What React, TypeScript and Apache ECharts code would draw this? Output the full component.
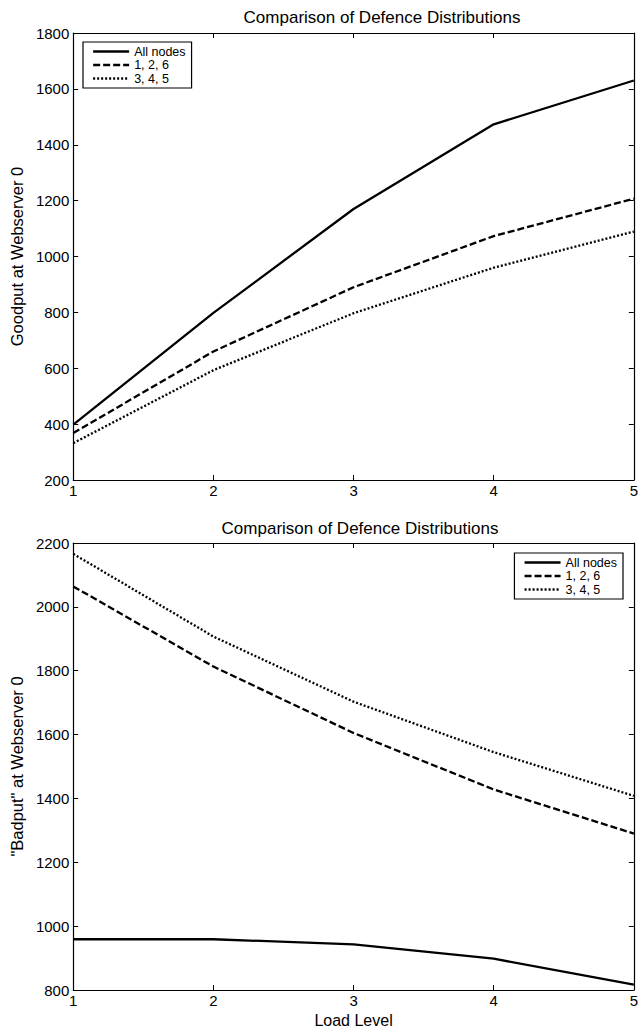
import React, { useEffect, useRef } from "react";
import * as echarts from "echarts";

const loadLevels = [1, 2, 3, 4, 5];
const seriesNames = ["All nodes", "1, 2, 6", "3, 4, 5"];

const goodputAll = [398, 798, 1170, 1473, 1630];
const goodput126 = [368, 660, 890, 1073, 1207];
const goodput345 = [332, 593, 797, 960, 1089];

const badputAll = [959, 959, 943, 898, 817];
const badput126 = [2064, 1813, 1605, 1428, 1290];
const badput345 = [2166, 1907, 1703, 1545, 1408];

const chartTitle = "Comparison of Defence Distributions";
const topYName = "Goodput at Webserver 0";
const bottomYName = "\"Badput\" at Webserver 0";
const xName = "Load Level";

const FONT = "'Liberation Sans', Arial, Helvetica, sans-serif";
const lineTypes: any[] = ["solid", [7, 3], [2, 2]];

export default function App() {
  const ref = useRef<HTMLDivElement>(null);
  useEffect(() => {
    if (!ref.current) return;
    const chart = echarts.init(ref.current, undefined, { renderer: "svg" });
    const pairs = (ys: number[]) => loadLevels.map((x, i) => [x, ys[i]]);
    const plain = (v: number) => String(v);

    const xBase = (gridIndex: number, position: string, showLabel: boolean) => ({
      type: "value",
      gridIndex,
      position,
      min: 1,
      max: 5,
      interval: 1,
      axisLine: { show: true, onZero: false, lineStyle: { color: "#000", width: 1.2 } },
      axisTick: { show: true, inside: true, length: 5, lineStyle: { color: "#000", width: 1 } },
      axisLabel: {
        show: showLabel,
        color: "#000",
        fontSize: 15,
        fontFamily: FONT,
        margin: 3,
        formatter: plain,
        showMinLabel: true,
        showMaxLabel: true,
      },
      splitLine: { show: false },
    });
    const yBase = (gridIndex: number, position: string, showLabel: boolean, min: number, max: number) => ({
      type: "value",
      gridIndex,
      position,
      min,
      max,
      interval: 200,
      axisLine: { show: true, onZero: false, lineStyle: { color: "#000", width: 1.2 } },
      axisTick: { show: true, inside: true, length: 5, lineStyle: { color: "#000", width: 1 } },
      axisLabel: {
        show: showLabel,
        color: "#000",
        fontSize: 15,
        fontFamily: FONT,
        margin: 4,
        formatter: plain,
        showMinLabel: true,
        showMaxLabel: true,
      },
      splitLine: { show: false },
    });

    const mkSeries = (data: number[][], idx: number, axis: number) => ({
      type: "line",
      name: seriesNames[idx],
      data,
      xAxisIndex: axis,
      yAxisIndex: axis,
      symbol: "none",
      lineStyle: { color: "#000", width: 2.3, type: lineTypes[idx] },
      itemStyle: { color: "#000" },
      silent: true,
    });

    const legendBase = {
      orient: "vertical",
      data: seriesNames,
      itemWidth: 36,
      itemHeight: 14,
      itemGap: 0.5,
      padding: [3, 6, 3, 9],
      borderColor: "#000",
      borderWidth: 1.2,
      backgroundColor: "#fff",
      selectedMode: false,
      itemStyle: { opacity: 0 },
      lineStyle: { width: 2.3 },
      textStyle: { color: "#000", fontSize: 12.5, fontFamily: FONT },
    };

    const topX = xBase(0, "bottom", true);
    const bottomX: any = xBase(1, "bottom", true);
    bottomX.name = xName;
    bottomX.nameLocation = "middle";
    bottomX.nameGap = 22;
    bottomX.nameTextStyle = { color: "#000", fontSize: 16, fontFamily: FONT };

    const topY: any = yBase(0, "left", true, 200, 1800);
    topY.name = topYName;
    topY.nameLocation = "middle";
    topY.nameGap = 41;
    topY.nameTextStyle = { color: "#000", fontSize: 16.5, fontFamily: FONT };
    const bottomY: any = yBase(1, "left", true, 800, 2200);
    bottomY.name = bottomYName;
    bottomY.nameLocation = "middle";
    bottomY.nameGap = 41;
    bottomY.nameTextStyle = { color: "#000", fontSize: 16.5, fontFamily: FONT };

    const topXTop = xBase(0, "top", false);
    const bottomXTop = xBase(1, "top", false);
    const topYRight = yBase(0, "right", false, 200, 1800);
    const bottomYRight = yBase(1, "right", false, 800, 2200);

    chart.setOption({
      animation: false,
      backgroundColor: "#fff",
      grid: [
        { left: 71, top: 33, width: 566, height: 447, containLabel: false },
        { left: 71, top: 543, width: 566, height: 447, containLabel: false },
      ],
      xAxis: [topX, bottomX, topXTop, bottomXTop],
      yAxis: [topY, bottomY, topYRight, bottomYRight],
      legend: [
        { ...legendBase, left: 83, top: 42 },
        { ...legendBase, right: 18, top: 553 },
      ],
      graphic: [
        {
          type: "text",
          x: 382,
          y: 17,
          style: {
            text: chartTitle,
            fill: "#000",
            fontSize: 17,
            fontFamily: FONT,
            align: "center",
            verticalAlign: "middle",
          },
        },
        {
          type: "text",
          x: 360,
          y: 528,
          style: {
            text: chartTitle,
            fill: "#000",
            fontSize: 17,
            fontFamily: FONT,
            align: "center",
            verticalAlign: "middle",
          },
        },
      ],
      series: [
        mkSeries(pairs(goodputAll), 0, 0),
        mkSeries(pairs(goodput126), 1, 0),
        mkSeries(pairs(goodput345), 2, 0),
        mkSeries(pairs(badputAll), 0, 1),
        mkSeries(pairs(badput126), 1, 1),
        mkSeries(pairs(badput345), 2, 1),
      ],
    });
    return () => chart.dispose();
  }, []);

  return (
    <div
      ref={ref}
      style={{ position: "fixed", left: 0, top: 0, width: 641, height: 1030, background: "#fff" }}
    />
  );
}
